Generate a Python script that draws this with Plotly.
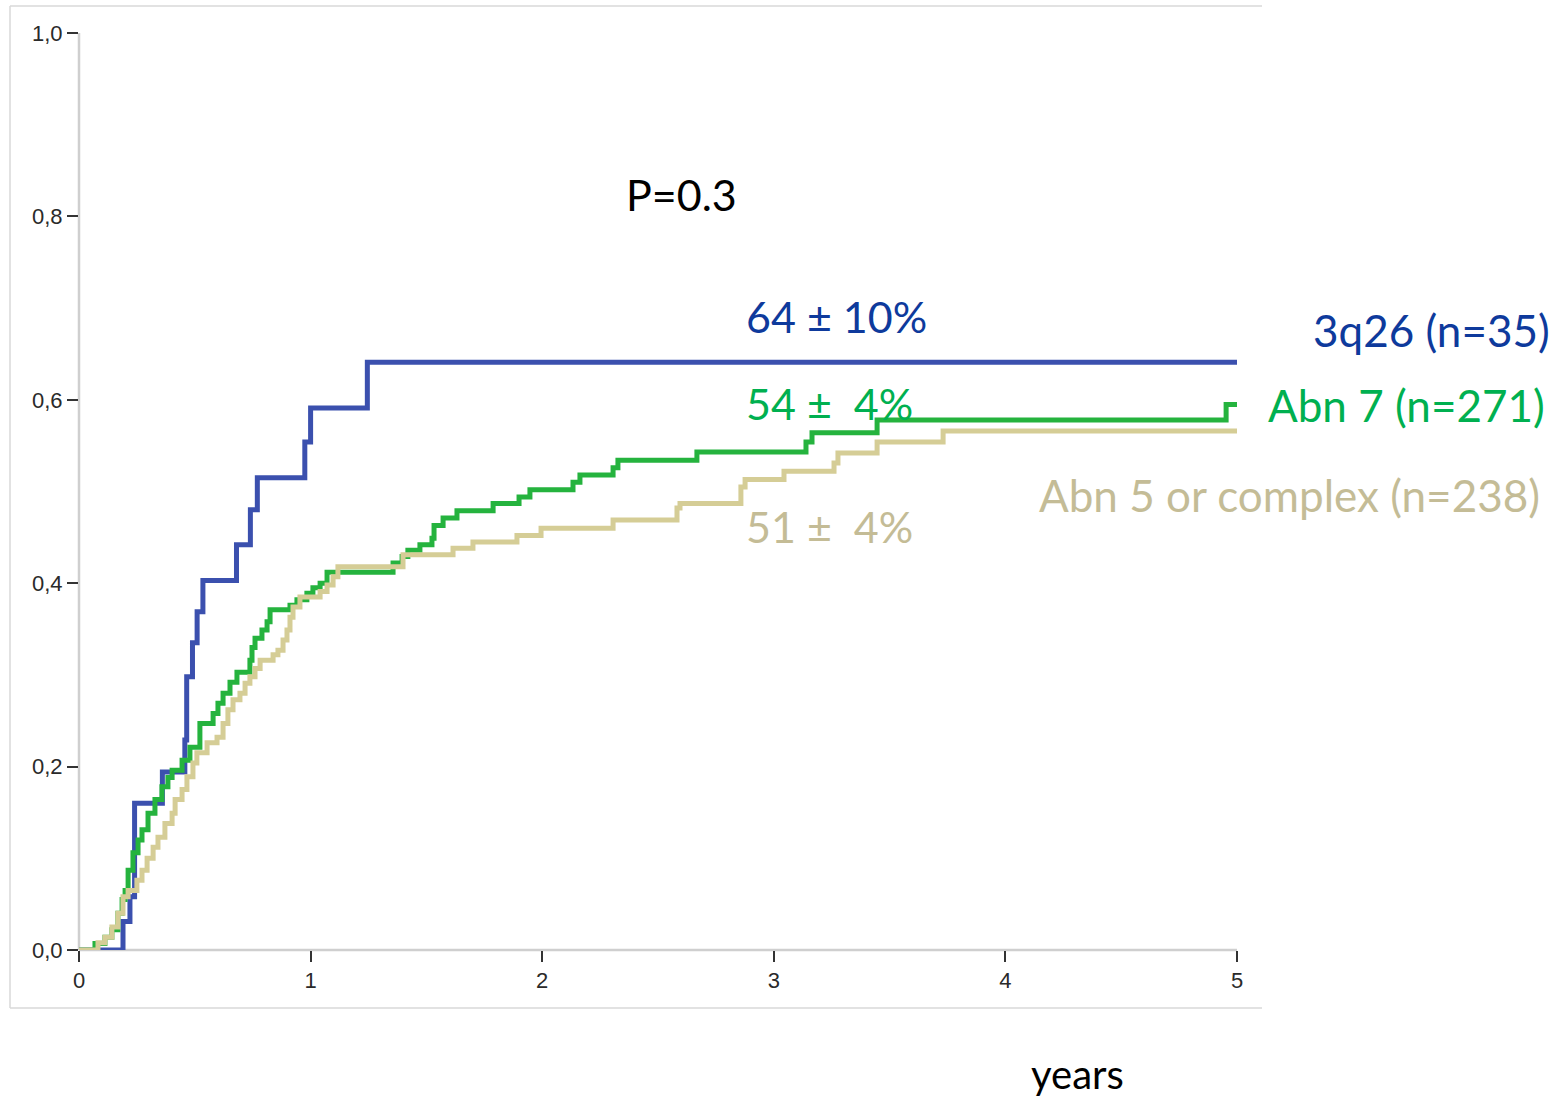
import plotly.graph_objects as go

# ---- data ----
blue_t = [0, 0.19, 0.22, 0.24, 0.36, 0.457, 0.465, 0.49, 0.51, 0.535, 0.68, 0.74, 0.77, 0.975, 1.0, 1.245, 5.0]
blue_v = [0, 0.031, 0.058, 0.16, 0.194, 0.229, 0.298, 0.335, 0.369, 0.403, 0.442, 0.48, 0.515, 0.554, 0.591, 0.641, 0.641]

green_t = [0, 0.069, 0.112, 0.142, 0.168, 0.186, 0.199, 0.212, 0.233, 0.255, 0.272, 0.298, 0.328, 0.358, 0.384,
           0.402, 0.445, 0.479, 0.522, 0.579, 0.60, 0.622, 0.652, 0.682, 0.738, 0.747, 0.76, 0.79, 0.812, 0.825,
           0.911, 0.941, 0.984, 1.01, 1.041, 1.071, 1.356, 1.395, 1.42, 1.472, 1.524, 1.533, 1.572, 1.632, 1.788,
           1.90, 1.947, 2.133, 2.163, 2.306, 2.327, 2.668, 3.139, 3.165, 3.446, 4.953, 5.0]
green_v = [0, 0.007, 0.014, 0.022, 0.04, 0.055, 0.065, 0.087, 0.106, 0.12, 0.131, 0.149, 0.164, 0.178, 0.188,
           0.196, 0.207, 0.221, 0.247, 0.258, 0.269, 0.28, 0.292, 0.303, 0.316, 0.33, 0.34, 0.349, 0.358, 0.371,
           0.376, 0.382, 0.389, 0.395, 0.40, 0.412, 0.422, 0.429, 0.436, 0.442, 0.449, 0.463, 0.471, 0.479, 0.487,
           0.494, 0.502, 0.51, 0.518, 0.526, 0.534, 0.543, 0.554, 0.564, 0.578, 0.595, 0.595]

beige_t = [0, 0.082, 0.112, 0.142, 0.168, 0.19, 0.212, 0.25, 0.272, 0.294, 0.32, 0.341, 0.371, 0.402, 0.415,
           0.445, 0.466, 0.492, 0.509, 0.553, 0.596, 0.622, 0.643, 0.665, 0.695, 0.717, 0.738, 0.76, 0.782, 0.838,
           0.859, 0.881, 0.898, 0.911, 0.924, 0.954, 1.041, 1.071, 1.097, 1.118, 1.399, 1.615, 1.701, 1.891, 1.995,
           2.306, 2.582, 2.595, 2.858, 2.876, 3.044, 3.26, 3.277, 3.446, 3.731, 5.0]
beige_v = [0, 0.008, 0.014, 0.025, 0.04, 0.058, 0.065, 0.076, 0.087, 0.10, 0.112, 0.123, 0.138, 0.149, 0.164,
           0.175, 0.189, 0.204, 0.215, 0.226, 0.232, 0.247, 0.262, 0.273, 0.28, 0.291, 0.298, 0.307, 0.316, 0.322,
           0.327, 0.338, 0.349, 0.363, 0.374, 0.385, 0.391, 0.398, 0.407, 0.418, 0.431, 0.438, 0.445, 0.452, 0.46,
           0.469, 0.482, 0.487, 0.505, 0.513, 0.522, 0.531, 0.542, 0.554, 0.566, 0.566]

x_ticks = [0, 1, 2, 3, 4, 5]
x_tick_labels = ["0", "1", "2", "3", "4", "5"]
y_ticks = [0, 0.2, 0.4, 0.6, 0.8, 1.0]
y_tick_labels = ["0,0", "0,2", "0,4", "0,6", "0,8", "1,0"]

BLUE_LINE = "#3B50AE"
GREEN_LINE = "#25B33E"
BEIGE_LINE = "#D5CD96"
BLUE_TXT = "#0E3A9C"
GREEN_TXT = "#00B050"
BEIGE_TXT = "#C4BC96"

fig = go.Figure()

# axis lines (light grey), drawn below the curves, not clipped
AXIS_COL = "#CFCFCF"
fig.add_shape(type="line", xref="paper", yref="paper", x0=0, x1=0, y0=0, y1=1,
              line=dict(color=AXIS_COL, width=2.5), layer="below")
fig.add_shape(type="line", xref="paper", yref="paper", x0=0, x1=1, y0=0, y1=0,
              line=dict(color=AXIS_COL, width=2.5), layer="below")

fig.add_trace(go.Scatter(x=blue_t, y=blue_v, mode="lines", line=dict(color=BLUE_LINE, width=5, shape="hv"),
                         cliponaxis=False, showlegend=False))
fig.add_trace(go.Scatter(x=green_t, y=green_v, mode="lines", line=dict(color=GREEN_LINE, width=5, shape="hv"),
                         cliponaxis=False, showlegend=False))
fig.add_trace(go.Scatter(x=beige_t, y=beige_v, mode="lines", line=dict(color=BEIGE_LINE, width=5, shape="hv"),
                         cliponaxis=False, showlegend=False))

L, R, T, B = 79, 1237, 33, 950
W, H = 1566, 1097


def px(xp):
    return (xp - L) / (R - L)


def py(yp):
    return (B - yp) / (B - T)


FONT = "Lato"
ann = [
    ("P=0.3", 625, 195, "left", "black", 43),
    ("64 ± 10%", 745, 316, "left", BLUE_TXT, 43),
    ("54 ±\u00a0 4%", 745, 403, "left", GREEN_TXT, 43),
    ("51 ±\u00a0 4%", 745, 526, "left", BEIGE_TXT, 43),
    ("3q26 (n=35)", 1551, 330, "right", BLUE_TXT, 44),
    ("Abn 7 (n=271)", 1546, 405, "right", GREEN_TXT, 44),
    ("Abn 5 or complex (n=238)", 1541, 495, "right", BEIGE_TXT, 44),
    ("years", 1030, 1074, "left", "black", 40),
]
for text, xp, yp, anchor, color, size in ann:
    fig.add_annotation(text=text, x=px(xp), y=py(yp), xref="paper", yref="paper",
                       xanchor=anchor, yanchor="middle", showarrow=False, borderpad=0,
                       font=dict(family=FONT, size=size, color=color))

# outer light frame (left, top, bottom)
frame_col = "#D9D9D9"
x0f, x1f, y0f, y1f = px(10), px(1262), py(1008), py(6)
fig.add_shape(type="line", xref="paper", yref="paper", x0=x0f, x1=x0f, y0=y0f, y1=y1f,
              line=dict(color=frame_col, width=1.5))
fig.add_shape(type="line", xref="paper", yref="paper", x0=x0f, x1=x1f, y0=y1f, y1=y1f,
              line=dict(color=frame_col, width=1.5))
fig.add_shape(type="line", xref="paper", yref="paper", x0=x0f, x1=x1f, y0=y0f, y1=y0f,
              line=dict(color=frame_col, width=1.5))

axis_common = dict(showline=False, showgrid=False, zeroline=False,
                   ticks="outside", tickcolor="#333333", tickwidth=2, ticklen=11,
                   tickfont=dict(family="Liberation Sans", size=22, color="#2a2a2a"))

fig.update_layout(
    width=W, height=H,
    margin=dict(l=L, r=W - R, t=T, b=H - B),
    paper_bgcolor="white", plot_bgcolor="white",
    xaxis=dict(range=[0, 5], tickvals=x_ticks, ticktext=x_tick_labels, ticklabelstandoff=0, **axis_common),
    yaxis=dict(range=[0, 1], tickvals=y_ticks, ticktext=y_tick_labels, ticklabelstandoff=0, **axis_common),
)

fig.write_html("out.html")
